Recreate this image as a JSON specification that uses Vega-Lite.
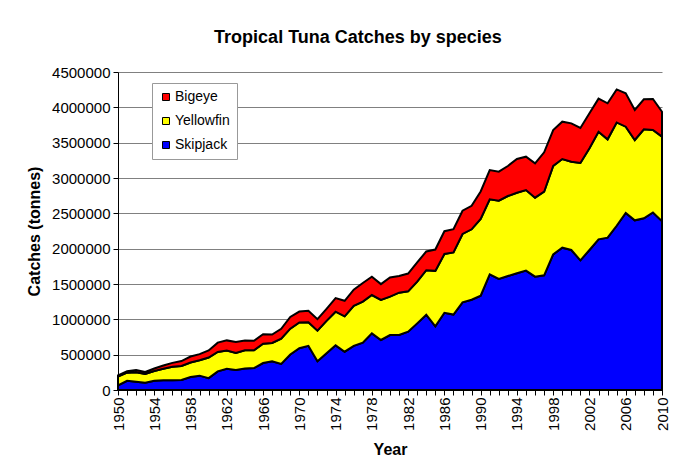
{
  "$schema": "https://vega.github.io/schema/vega-lite/v6.json",
  "width": 544,
  "height": 318,
  "autosize": {"type": "none"},
  "padding": {"left": 118, "top": 72, "right": 22, "bottom": 78},
  "background": "white",
  "title": {
    "text": "Tropical Tuna Catches by species",
    "fontSize": 18,
    "fontWeight": "bold",
    "color": "black",
    "anchor": "middle",
    "frame": "group",
    "dx": -32,
    "offset": 18
  },
  "data": {
    "values": [
      {"year": 1950, "Skipjack": 65000, "Yellowfin": 125000, "Bigeye": 17000},
      {"year": 1951, "Skipjack": 130000, "Yellowfin": 115000, "Bigeye": 20000},
      {"year": 1952, "Skipjack": 118000, "Yellowfin": 132000, "Bigeye": 32000},
      {"year": 1953, "Skipjack": 104000, "Yellowfin": 124000, "Bigeye": 27000},
      {"year": 1954, "Skipjack": 132000, "Yellowfin": 136000, "Bigeye": 36000},
      {"year": 1955, "Skipjack": 137000, "Yellowfin": 163000, "Bigeye": 46000},
      {"year": 1956, "Skipjack": 137000, "Yellowfin": 193000, "Bigeye": 54000},
      {"year": 1957, "Skipjack": 141000, "Yellowfin": 199000, "Bigeye": 70000},
      {"year": 1958, "Skipjack": 184000, "Yellowfin": 205000, "Bigeye": 85000},
      {"year": 1959, "Skipjack": 203000, "Yellowfin": 217000, "Bigeye": 87000},
      {"year": 1960, "Skipjack": 168000, "Yellowfin": 292000, "Bigeye": 99000},
      {"year": 1961, "Skipjack": 264000, "Yellowfin": 274000, "Bigeye": 132000},
      {"year": 1962, "Skipjack": 300000, "Yellowfin": 260000, "Bigeye": 142000},
      {"year": 1963, "Skipjack": 283000, "Yellowfin": 242000, "Bigeye": 155000},
      {"year": 1964, "Skipjack": 304000, "Yellowfin": 259000, "Bigeye": 137000},
      {"year": 1965, "Skipjack": 311000, "Yellowfin": 252000, "Bigeye": 133000},
      {"year": 1966, "Skipjack": 382000, "Yellowfin": 273000, "Bigeye": 135000},
      {"year": 1967, "Skipjack": 405000, "Yellowfin": 260000, "Bigeye": 120000},
      {"year": 1968, "Skipjack": 368000, "Yellowfin": 359000, "Bigeye": 138000},
      {"year": 1969, "Skipjack": 503000, "Yellowfin": 365000, "Bigeye": 165000},
      {"year": 1970, "Skipjack": 591000, "Yellowfin": 364000, "Bigeye": 155000},
      {"year": 1971, "Skipjack": 625000, "Yellowfin": 335000, "Bigeye": 160000},
      {"year": 1972, "Skipjack": 408000, "Yellowfin": 432000, "Bigeye": 163000},
      {"year": 1973, "Skipjack": 519000, "Yellowfin": 459000, "Bigeye": 171000},
      {"year": 1974, "Skipjack": 632000, "Yellowfin": 476000, "Bigeye": 192000},
      {"year": 1975, "Skipjack": 542000, "Yellowfin": 501000, "Bigeye": 219000},
      {"year": 1976, "Skipjack": 625000, "Yellowfin": 566000, "Bigeye": 229000},
      {"year": 1977, "Skipjack": 670000, "Yellowfin": 580000, "Bigeye": 265000},
      {"year": 1978, "Skipjack": 802000, "Yellowfin": 542000, "Bigeye": 260000},
      {"year": 1979, "Skipjack": 708000, "Yellowfin": 566000, "Bigeye": 224000},
      {"year": 1980, "Skipjack": 778000, "Yellowfin": 543000, "Bigeye": 271000},
      {"year": 1981, "Skipjack": 778000, "Yellowfin": 599000, "Bigeye": 236000},
      {"year": 1982, "Skipjack": 825000, "Yellowfin": 571000, "Bigeye": 252000},
      {"year": 1983, "Skipjack": 943000, "Yellowfin": 590000, "Bigeye": 272000},
      {"year": 1984, "Skipjack": 1065000, "Yellowfin": 630000, "Bigeye": 266000},
      {"year": 1985, "Skipjack": 900000, "Yellowfin": 786000, "Bigeye": 302000},
      {"year": 1986, "Skipjack": 1093000, "Yellowfin": 832000, "Bigeye": 322000},
      {"year": 1987, "Skipjack": 1068000, "Yellowfin": 879000, "Bigeye": 329000},
      {"year": 1988, "Skipjack": 1240000, "Yellowfin": 968000, "Bigeye": 329000},
      {"year": 1989, "Skipjack": 1278000, "Yellowfin": 996000, "Bigeye": 332000},
      {"year": 1990, "Skipjack": 1335000, "Yellowfin": 1085000, "Bigeye": 390000},
      {"year": 1991, "Skipjack": 1637000, "Yellowfin": 1061000, "Bigeye": 415000},
      {"year": 1992, "Skipjack": 1571000, "Yellowfin": 1108000, "Bigeye": 411000},
      {"year": 1993, "Skipjack": 1613000, "Yellowfin": 1132000, "Bigeye": 425000},
      {"year": 1994, "Skipjack": 1651000, "Yellowfin": 1141000, "Bigeye": 477000},
      {"year": 1995, "Skipjack": 1689000, "Yellowfin": 1141000, "Bigeye": 472000},
      {"year": 1996, "Skipjack": 1604000, "Yellowfin": 1118000, "Bigeye": 486000},
      {"year": 1997, "Skipjack": 1623000, "Yellowfin": 1183000, "Bigeye": 558000},
      {"year": 1998, "Skipjack": 1920000, "Yellowfin": 1252000, "Bigeye": 507000},
      {"year": 1999, "Skipjack": 2014000, "Yellowfin": 1255000, "Bigeye": 528000},
      {"year": 2000, "Skipjack": 1981000, "Yellowfin": 1250000, "Bigeye": 542000},
      {"year": 2001, "Skipjack": 1835000, "Yellowfin": 1378000, "Bigeye": 495000},
      {"year": 2002, "Skipjack": 1981000, "Yellowfin": 1439000, "Bigeye": 495000},
      {"year": 2003, "Skipjack": 2132000, "Yellowfin": 1523000, "Bigeye": 468000},
      {"year": 2004, "Skipjack": 2156000, "Yellowfin": 1391000, "Bigeye": 510000},
      {"year": 2005, "Skipjack": 2324000, "Yellowfin": 1462000, "Bigeye": 468000},
      {"year": 2006, "Skipjack": 2505000, "Yellowfin": 1221000, "Bigeye": 472000},
      {"year": 2007, "Skipjack": 2401000, "Yellowfin": 1137000, "Bigeye": 424000},
      {"year": 2008, "Skipjack": 2430000, "Yellowfin": 1259000, "Bigeye": 425000},
      {"year": 2009, "Skipjack": 2512000, "Yellowfin": 1167000, "Bigeye": 439000},
      {"year": 2010, "Skipjack": 2390000, "Yellowfin": 1195000, "Bigeye": 353000}
    ]
  },
  "transform": [
    {"fold": ["Skipjack", "Yellowfin", "Bigeye"], "as": ["species", "catch"]},
    {"calculate": "indexof(['Skipjack', 'Yellowfin', 'Bigeye'], datum.species)", "as": "stackOrder"}
  ],
  "mark": {"type": "area", "stroke": "black", "strokeWidth": 2, "opacity": 1, "fillOpacity": 1, "interpolate": "linear"},
  "encoding": {
    "x": {
      "field": "year",
      "type": "quantitative",
      "scale": {"domain": [1950, 2010], "nice": false, "zero": false},
      "axis": {
        "title": "Year",
        "values": [1950, 1951, 1952, 1953, 1954, 1955, 1956, 1957, 1958, 1959, 1960, 1961, 1962, 1963, 1964, 1965, 1966, 1967, 1968, 1969, 1970, 1971, 1972, 1973, 1974, 1975, 1976, 1977, 1978, 1979, 1980, 1981, 1982, 1983, 1984, 1985, 1986, 1987, 1988, 1989, 1990, 1991, 1992, 1993, 1994, 1995, 1996, 1997, 1998, 1999, 2000, 2001, 2002, 2003, 2004, 2005, 2006, 2007, 2008, 2009, 2010],
        "format": "d",
        "labelExpr": "datum.value % 4 == 2 ? datum.label : ''",
        "labelAngle": -90,
        "labelFontSize": 15,
        "labelColor": "black",
        "labelPadding": 2,
        "labelFlush": false,
        "labelOverlap": false,
        "labelBound": false,
        "tickSize": 5,
        "tickColor": "black",
        "domainColor": "black",
        "grid": false,
        "titleFontSize": 16,
        "titleFontWeight": "bold",
        "titleColor": "black",
        "titlePadding": 11
      }
    },
    "y": {
      "field": "catch",
      "type": "quantitative",
      "stack": "zero",
      "scale": {"domain": [0, 4500000], "nice": false},
      "axis": {
        "title": "Catches (tonnes)",
        "values": [0, 500000, 1000000, 1500000, 2000000, 2500000, 3000000, 3500000, 4000000, 4500000],
        "format": "d",
        "labelFontSize": 15,
        "labelColor": "black",
        "labelPadding": 3,
        "labelFlush": false,
        "labelOverlap": false,
        "tickSize": 5,
        "tickColor": "black",
        "domainColor": "black",
        "grid": true,
        "gridColor": "#808080",
        "gridWidth": 1,
        "titleFontSize": 16,
        "titleFontWeight": "bold",
        "titleColor": "black",
        "titlePadding": 9
      }
    },
    "color": {
      "field": "species",
      "type": "nominal",
      "scale": {"domain": ["Bigeye", "Yellowfin", "Skipjack"], "range": ["#FF0000", "#FFFF00", "#0000FF"]},
      "legend": {
        "title": null,
        "orient": "none",
        "legendX": 34,
        "legendY": 11,
        "fillColor": "white",
        "strokeColor": "#999999",
        "padding": 7,
        "symbolType": "square",
        "symbolSize": 49,
        "symbolStrokeColor": "black",
        "symbolStrokeWidth": 1,
        "symbolOpacity": 1,
        "labelFontSize": 14,
        "labelColor": "black",
        "labelOffset": 2,
        "rowPadding": 10
      }
    },
    "order": {"field": "stackOrder", "type": "quantitative"}
  },
  "config": {
    "view": {"stroke": null},
    "font": "Liberation Sans"
  }
}
